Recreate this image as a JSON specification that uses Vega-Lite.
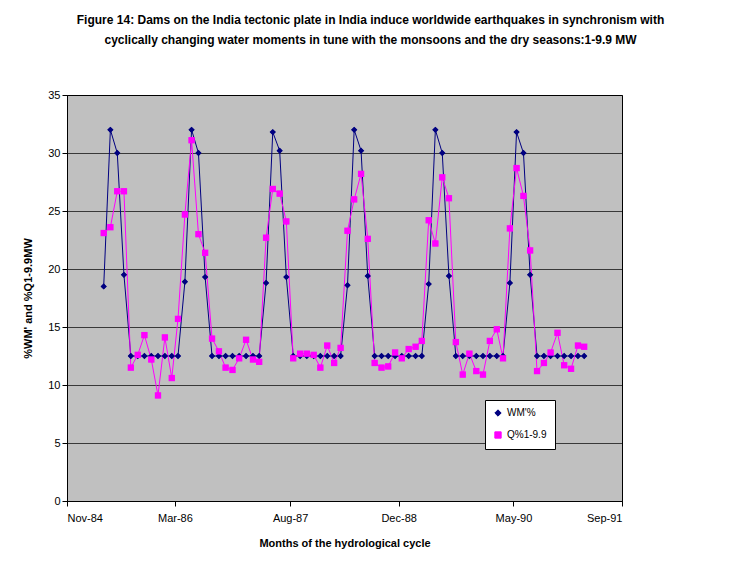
{
  "$schema": "https://vega.github.io/schema/vega-lite/v6.json",
  "width": 555,
  "height": 406,
  "autosize": {"type": "none"},
  "padding": {"left": 67, "top": 95, "right": 113, "bottom": 73},
  "background": "white",
  "title": {
    "text": ["Figure 14: Dams on the India tectonic plate in India induce worldwide earthquakes  in synchronism with", "cyclically changing water moments in tune with the monsoons and the dry seasons:1-9.9 MW"],
    "font": "Liberation Sans",
    "fontSize": 12,
    "fontWeight": "bold",
    "lineHeight": 20,
    "offset": 42,
    "dx": 26,
    "anchor": "middle"
  },
  "data": {
    "values": [
      {"m": "1985-04-15", "wm": 18.5, "q": 23.1},
      {"m": "1985-05-15", "wm": 32.0, "q": 23.6},
      {"m": "1985-06-15", "wm": 30.0, "q": 26.7},
      {"m": "1985-07-15", "wm": 19.5, "q": 26.7},
      {"m": "1985-08-15", "wm": 12.5, "q": 11.5},
      {"m": "1985-09-15", "wm": 12.5, "q": 12.6},
      {"m": "1985-10-15", "wm": 12.5, "q": 14.3},
      {"m": "1985-11-15", "wm": 12.5, "q": 12.2},
      {"m": "1985-12-15", "wm": 12.5, "q": 9.1},
      {"m": "1986-01-15", "wm": 12.5, "q": 14.1},
      {"m": "1986-02-15", "wm": 12.5, "q": 10.6},
      {"m": "1986-03-15", "wm": 12.5, "q": 15.7},
      {"m": "1986-04-15", "wm": 18.9, "q": 24.7},
      {"m": "1986-05-15", "wm": 32.0, "q": 31.1},
      {"m": "1986-06-15", "wm": 30.0, "q": 23.0},
      {"m": "1986-07-15", "wm": 19.3, "q": 21.4},
      {"m": "1986-08-15", "wm": 12.5, "q": 14.0},
      {"m": "1986-09-15", "wm": 12.5, "q": 12.9},
      {"m": "1986-10-15", "wm": 12.5, "q": 11.5},
      {"m": "1986-11-15", "wm": 12.5, "q": 11.3},
      {"m": "1986-12-15", "wm": 12.5, "q": 12.3},
      {"m": "1987-01-15", "wm": 12.5, "q": 13.9},
      {"m": "1987-02-15", "wm": 12.5, "q": 12.2},
      {"m": "1987-03-15", "wm": 12.5, "q": 12.0},
      {"m": "1987-04-15", "wm": 18.8, "q": 22.7},
      {"m": "1987-05-15", "wm": 31.8, "q": 26.9},
      {"m": "1987-06-15", "wm": 30.2, "q": 26.5},
      {"m": "1987-07-15", "wm": 19.3, "q": 24.1},
      {"m": "1987-08-15", "wm": 12.5, "q": 12.3},
      {"m": "1987-09-15", "wm": 12.5, "q": 12.7},
      {"m": "1987-10-15", "wm": 12.5, "q": 12.7},
      {"m": "1987-11-15", "wm": 12.5, "q": 12.6},
      {"m": "1987-12-15", "wm": 12.5, "q": 11.5},
      {"m": "1988-01-15", "wm": 12.5, "q": 13.4},
      {"m": "1988-02-15", "wm": 12.5, "q": 11.9},
      {"m": "1988-03-15", "wm": 12.5, "q": 13.2},
      {"m": "1988-04-15", "wm": 18.6, "q": 23.3},
      {"m": "1988-05-15", "wm": 32.0, "q": 26.0},
      {"m": "1988-06-15", "wm": 30.2, "q": 28.2},
      {"m": "1988-07-15", "wm": 19.4, "q": 22.6},
      {"m": "1988-08-15", "wm": 12.5, "q": 11.9},
      {"m": "1988-09-15", "wm": 12.5, "q": 11.5},
      {"m": "1988-10-15", "wm": 12.5, "q": 11.6},
      {"m": "1988-11-15", "wm": 12.5, "q": 12.8},
      {"m": "1988-12-15", "wm": 12.5, "q": 12.3},
      {"m": "1989-01-15", "wm": 12.5, "q": 13.1},
      {"m": "1989-02-15", "wm": 12.5, "q": 13.3},
      {"m": "1989-03-15", "wm": 12.5, "q": 13.8},
      {"m": "1989-04-15", "wm": 18.7, "q": 24.2},
      {"m": "1989-05-15", "wm": 32.0, "q": 22.2},
      {"m": "1989-06-15", "wm": 30.0, "q": 27.9},
      {"m": "1989-07-15", "wm": 19.4, "q": 26.1},
      {"m": "1989-08-15", "wm": 12.5, "q": 13.7},
      {"m": "1989-09-15", "wm": 12.5, "q": 10.9},
      {"m": "1989-10-15", "wm": 12.5, "q": 12.7},
      {"m": "1989-11-15", "wm": 12.5, "q": 11.2},
      {"m": "1989-12-15", "wm": 12.5, "q": 10.9},
      {"m": "1990-01-15", "wm": 12.5, "q": 13.8},
      {"m": "1990-02-15", "wm": 12.5, "q": 14.8},
      {"m": "1990-03-15", "wm": 12.5, "q": 12.3},
      {"m": "1990-04-15", "wm": 18.8, "q": 23.5},
      {"m": "1990-05-15", "wm": 31.8, "q": 28.7},
      {"m": "1990-06-15", "wm": 30.0, "q": 26.3},
      {"m": "1990-07-15", "wm": 19.5, "q": 21.6},
      {"m": "1990-08-15", "wm": 12.5, "q": 11.2},
      {"m": "1990-09-15", "wm": 12.5, "q": 11.9},
      {"m": "1990-10-15", "wm": 12.5, "q": 12.8},
      {"m": "1990-11-15", "wm": 12.5, "q": 14.5},
      {"m": "1990-12-15", "wm": 12.5, "q": 11.7},
      {"m": "1991-01-15", "wm": 12.5, "q": 11.4},
      {"m": "1991-02-15", "wm": 12.5, "q": 13.4},
      {"m": "1991-03-15", "wm": 12.5, "q": 13.3}
    ]
  },
  "transform": [
    {"fold": ["wm", "q"], "as": ["series", "value"]},
    {"calculate": "datum.series == 'wm' ? \"WM'%\" : 'Q%1-9.9'", "as": "label"}
  ],
  "encoding": {
    "x": {
      "field": "m",
      "type": "temporal",
      "title": "Months of the hydrological cycle",
      "scale": {"domain": ["1984-11-01", "1991-09-01"]},
      "axis": {
        "values": ["1984-11-01", "1986-03-01", "1987-08-01", "1988-12-01", "1990-05-01", "1991-09-01"],
        "format": "%b-%y",
        "grid": false,
        "domainColor": "black",
        "tickColor": "black",
        "labelFont": "Liberation Sans",
        "labelFontSize": 11,
        "labelColor": "black",
        "labelPadding": 6,
        "titleFont": "Liberation Sans",
        "titleFontSize": 11,
        "titleFontWeight": "bold",
        "titlePadding": 14
      }
    },
    "y": {
      "field": "value",
      "type": "quantitative",
      "title": "%WM' and %Q1-9.9MW",
      "scale": {"domain": [0, 35]},
      "axis": {
        "values": [0, 5, 10, 15, 20, 25, 30, 35],
        "gridColor": "black",
        "gridWidth": 1,
        "gridOpacity": 0.7,
        "domainColor": "black",
        "tickColor": "black",
        "labelFont": "Liberation Sans",
        "labelFontSize": 11,
        "labelColor": "black",
        "titleFont": "Liberation Sans",
        "titleFontSize": 11,
        "titleFontWeight": "bold",
        "titlePadding": 14
      }
    },
    "color": {
      "field": "label",
      "type": "nominal",
      "scale": {"domain": ["WM'%", "Q%1-9.9"], "range": ["#000080", "#FF00FF"]},
      "legend": {
        "title": null,
        "orient": "none",
        "legendX": 418,
        "legendY": 305,
        "fillColor": "white",
        "strokeColor": "black",
        "padding": 8,
        "rowPadding": 10,
        "symbolSize": 40,
        "labelFont": "Liberation Sans",
        "labelFontSize": 10,
        "symbolStrokeWidth": 1
      }
    },
    "shape": {
      "field": "label",
      "type": "nominal",
      "scale": {"domain": ["WM'%", "Q%1-9.9"], "range": ["diamond", "square"]},
      "legend": null
    }
  },
  "layer": [
    {"mark": {"type": "line", "strokeWidth": 1}},
    {"mark": {"type": "point", "filled": true, "opacity": 1, "size": 40}}
  ],
  "config": {
    "view": {"fill": "#C0C0C0", "stroke": "black"}
  }
}
